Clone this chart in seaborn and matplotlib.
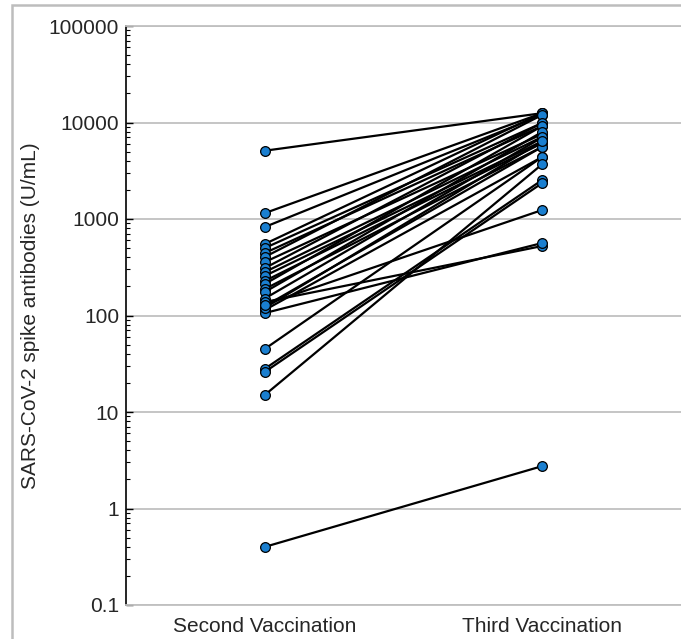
import numpy as np
import pandas as pd
import matplotlib
matplotlib.use("Agg")
import matplotlib.pyplot as plt
from matplotlib.patches import Rectangle
from matplotlib.ticker import FixedLocator, FixedFormatter, LogLocator, NullFormatter
import seaborn as sns

# ---- data (U/mL) ----
timepoints = ["Second Vaccination", "Third Vaccination"]
second_dose = [5100, 1150, 826, 551, 500, 444, 404, 358, 310, 282, 257, 228, 212,
               188, 175, 150, 138, 125, 114, 106, 120, 130, 45, 28, 26, 15, 0.4]
third_dose = [12500, 12500, 12000, 12500, 9900, 9200, 12000, 7600, 9900, 7100, 6400,
              6100, 9200, 5600, 8000, 7000, 525, 5600, 4400, 564, 6400, 1240, 4400,
              2540, 2360, 3700, 2.75]
ytick_values = [0.1, 1, 10, 100, 1000, 10000, 100000]
ytick_labels = ["0.1", "1", "10", "100", "1000", "10000", "100000"]

rows = []
for i, (a, b) in enumerate(zip(second_dose, third_dose)):
    rows.append({"subject": i, "time": timepoints[0], "value": a})
    rows.append({"subject": i, "time": timepoints[1], "value": b})
df = pd.DataFrame(rows)

sns.set_style("white")
plt.rcParams["font.family"] = ["Liberation Sans", "DejaVu Sans"]

fig = plt.figure(figsize=(6.81, 6.39), dpi=100)
ax = fig.add_axes([126 / 681, 34 / 639, 1 - 126 / 681, 579 / 639])

grid_c = "#c0c0c0"
for v in ytick_values:
    ax.axhline(v, color=grid_c, lw=1.3, zorder=0)

sns.lineplot(data=df, x="time", y="value", units="subject", estimator=None,
             color="black", lw=1.6, marker="o", markersize=7,
             markerfacecolor="#1a7fd0", markeredgecolor="black",
             markeredgewidth=0.9, ax=ax, legend=False, zorder=3)

ax.set_yscale("log")
ax.set_ylim(0.1, 100000)
ax.set_xlim(-0.5, 1.5)
ax.yaxis.set_major_locator(FixedLocator(ytick_values))
ax.yaxis.set_major_formatter(FixedFormatter(ytick_labels))
ax.yaxis.set_minor_locator(LogLocator(base=10, subs=np.arange(2, 10)))
ax.yaxis.set_minor_formatter(NullFormatter())
ax.tick_params(axis="y", which="major", direction="in", length=5, width=1,
               color="black", labelsize=15, pad=5, left=True)
ax.tick_params(axis="y", which="minor", direction="in", length=3, width=0.8,
               color="black", left=True)
ax.tick_params(axis="x", length=0, labelsize=15, pad=9)

ax.set_xlabel("")
ax.set_ylabel("SARS-CoV-2 spike antibodies (U/mL)", fontsize=15)
ax.yaxis.set_label_coords(-0.155, 0.5)

for s in ["top", "bottom"]:
    ax.spines[s].set_color(grid_c)
    ax.spines[s].set_linewidth(1.3)
ax.spines["left"].set_color("black")
ax.spines["left"].set_linewidth(1.2)
ax.spines["right"].set_visible(False)

fig.patches.append(Rectangle((12 / 681, -0.1), 2, 1.1 - 5 / 639,
                             transform=fig.transFigure, fill=False,
                             edgecolor="#bdbdbd", lw=1.8))

fig.savefig("out.png", dpi=100)
